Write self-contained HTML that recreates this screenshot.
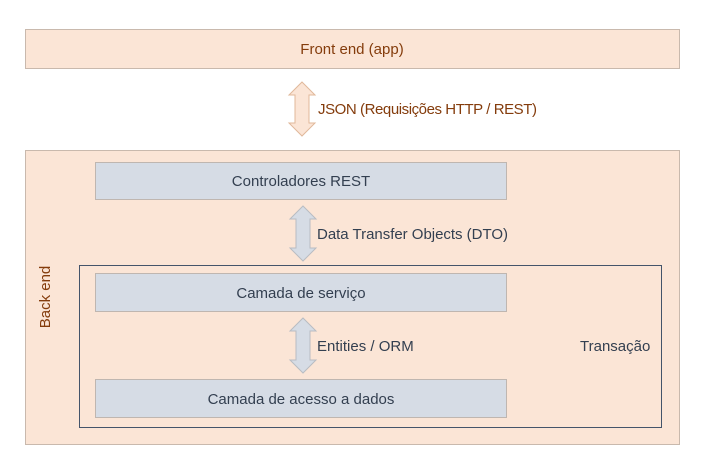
<!DOCTYPE html>
<html><head><meta charset="utf-8"><style>
html,body{margin:0;padding:0;background:#fff;}
svg{display:block;}
text{font-family:"Liberation Sans",sans-serif;font-size:15px;}
</style></head><body>
<svg width="715" height="470" viewBox="0 0 715 470">
<rect x="25.5" y="29.5" width="654" height="39" fill="#fbe5d6" stroke="#c9b9ad"/>
<text x="352" y="54" text-anchor="middle" fill="#843c0c">Front end (app)</text>
<polygon points="302,82 315,95 309,95 309,123 315,123 302,136 289,123 295,123 295,95 289,95" fill="#fbe5d6" stroke="#e0b89a"/>
<text x="318" y="114" fill="#843c0c" textLength="219">JSON (Requisições HTTP / REST)</text>
<rect x="25.5" y="150.5" width="654" height="294" fill="#fbe5d6" stroke="#c9b9ad"/>
<text transform="translate(50,297) rotate(-90)" text-anchor="middle" fill="#843c0c">Back end</text>
<rect x="95.5" y="162.5" width="411" height="37" fill="#d6dce5" stroke="#bfb6b0"/>
<text x="301" y="186" text-anchor="middle" fill="#333f50">Controladores REST</text>
<polygon points="303,206 316,219 310,219 310,248 316,248 303,261 290,248 296,248 296,219 290,219" fill="#d6dce5" stroke="#b8bcc2"/>
<text x="317" y="239" fill="#333f50" textLength="191">Data Transfer Objects (DTO)</text>
<rect x="79.5" y="265.5" width="582" height="162" fill="none" stroke="#44546a"/>
<rect x="95.5" y="273.5" width="411" height="38" fill="#d6dce5" stroke="#bfb6b0"/>
<text x="301" y="298" text-anchor="middle" fill="#333f50">Camada de serviço</text>
<polygon points="303,318 316,331 310,331 310,360 316,360 303,373 290,360 296,360 296,331 290,331" fill="#d6dce5" stroke="#b8bcc2"/>
<text x="317" y="351" fill="#333f50">Entities / ORM</text>
<text x="580" y="351" fill="#333f50">Transação</text>
<rect x="95.5" y="379.5" width="411" height="38" fill="#d6dce5" stroke="#bfb6b0"/>
<text x="301" y="404" text-anchor="middle" fill="#333f50">Camada de acesso a dados</text>
</svg>
</body></html>
